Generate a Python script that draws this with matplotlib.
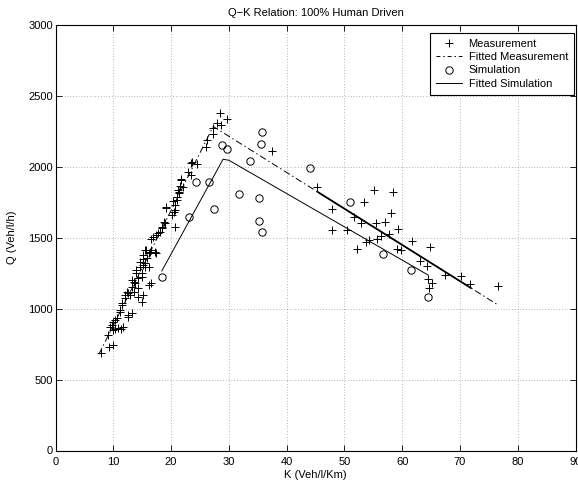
import matplotlib
matplotlib.use("Agg")
import numpy as np
import matplotlib.pyplot as plt
from matplotlib.lines import Line2D

plt.rcParams['font.family'] = ['Liberation Sans', 'DejaVu Sans']

# Measurement points (K in Veh/l/Km, Q in Veh/l/h)
meas_k = [7.8, 9.3, 9.9, 9.1, 9.4, 10.0, 10.3, 10.9, 11.4, 11.7, 9.9, 10.3, 9.7, 10.6,
          12.6, 12.6, 11.2, 11.2, 13.2, 11.5, 11.5, 12.0, 12.0, 12.9, 12.6, 12.3, 13.5,
          14.3, 14.9, 15.2, 13.2, 14.2, 13.5, 16.1, 16.6, 13.8, 13.2, 14.3, 14.9, 13.9,
          14.9, 14.0, 14.6, 15.5, 16.1, 15.5, 14.6, 15.2, 15.1, 15.8, 15.2, 15.7, 15.5,
          16.6, 16.3, 17.2, 17.4, 16.1, 16.6, 16.9, 17.4, 17.8, 18.0, 18.4, 18.5, 20.7,
          18.9, 18.7, 20.1, 20.5, 20.7, 19.2, 19.2, 20.7, 21.0, 20.3, 21.1, 21.4, 21.4,
          21.2, 22.0, 21.5, 21.8, 21.7, 23.0, 23.4, 23.7, 23.4, 24.5, 26.0, 26.3, 27.3,
          27.2, 28.6, 27.9, 29.7, 28.5, 37.4,
          45.3, 55.1, 58.4, 53.4, 47.9, 58.0, 51.7, 52.9, 57.0, 55.4, 59.3, 47.8, 50.4,
          57.7, 56.3, 55.7, 54.2, 53.7, 61.7, 52.1, 59.1, 59.8, 64.8, 63.1, 64.3, 67.4,
          70.1, 71.7, 64.5, 65.2, 64.7, 76.6]
meas_q = [689, 727, 743, 814, 868, 849, 854, 860, 856, 872, 907, 919, 884, 931,
          943, 955, 978, 990, 967, 1025, 1037, 1072, 1095, 1095, 1107, 1119, 1119,
          1083, 1044, 1095, 1154, 1143, 1189, 1166, 1178, 1178, 1201, 1213, 1225, 1248,
          1248, 1272, 1295, 1295, 1291, 1319, 1330, 1307, 1347, 1354, 1377, 1413, 1413,
          1413, 1401, 1401, 1389, 1389, 1488, 1506, 1518, 1535, 1542, 1565, 1577, 1572,
          1600, 1612, 1659, 1682, 1694, 1706, 1718, 1730, 1765, 1760, 1788, 1812, 1823,
          1835, 1859, 1862, 1906, 1911, 1964, 1941, 2035, 2028, 2018, 2140, 2187, 2228,
          2270, 2293, 2305, 2333, 2376, 2110,
          1859, 1833, 1823, 1753, 1701, 1671, 1643, 1601, 1612, 1601, 1561, 1553, 1553,
          1525, 1511, 1490, 1483, 1467, 1478, 1420, 1420, 1413, 1432, 1337, 1300, 1236,
          1229, 1171, 1206, 1178, 1143, 1161]

# Simulation points
sim_k = [18.4, 23.1, 24.4, 26.6, 27.4, 28.8, 29.6, 31.7, 33.7, 35.5, 35.8, 35.2,
         35.3, 35.7, 44.0, 51.0, 56.7, 61.5, 64.5]
sim_q = [1225, 1647, 1894, 1889, 1704, 2152, 2122, 1805, 2042, 2157, 2246, 1779,
         1615, 1542, 1990, 1753, 1382, 1272, 1084]

# Fitted curves
fit_meas_k = [7.5, 27.3, 76.6]
fit_meas_q = [678, 2283, 1025]
fit_sim_k = [18.4, 29.0, 30.0, 64.5]
fit_sim_q = [1265, 2052, 2045, 1236]
# K range where the fitted-measurement line renders as a heavy solid stroke
fit_meas_solid_k = [45.3, 72.0]

xticks = [0, 10, 20, 30, 40, 50, 60, 70, 80, 90]
yticks = [0, 500, 1000, 1500, 2000, 2500, 3000]

fig = plt.figure(figsize=(5.78, 4.82), dpi=100)
ax = fig.add_axes([55.5 / 578, (482 - 450.5) / 482, 520 / 578, 425.8 / 482])

ax.plot(meas_k, meas_q, linestyle='none', marker='+', color='k',
        markersize=5.2, markeredgewidth=0.7)
ax.plot(fit_meas_k, fit_meas_q, color='k', linewidth=0.7,
        linestyle=(0, (7, 3, 1.5, 3)))
solid_q = np.interp(fit_meas_solid_k, fit_meas_k, fit_meas_q)
ax.plot(fit_meas_solid_k, solid_q, color='k', linewidth=1.3, linestyle='-',
        solid_capstyle='butt')
ax.plot(sim_k, sim_q, linestyle='none', marker='o', color='k',
        markerfacecolor='none', markersize=5.3, markeredgewidth=0.7)
ax.plot(fit_sim_k, fit_sim_q, color='k', linewidth=0.7, linestyle='-')

ax.set_xlim(0, 90)
ax.set_ylim(0, 3000)
ax.set_xticks(xticks)
ax.set_yticks(yticks)
ax.tick_params(direction='in', top=True, right=True, length=4, width=0.6,
               labelsize=8)
ax.tick_params(axis='x', pad=5)
ax.tick_params(axis='y', pad=2)
ax.grid(True, color='k', linestyle=(0, (1, 3)), linewidth=0.5, alpha=0.55)
for s in ax.spines.values():
    s.set_linewidth(0.8)

ax.set_xlabel('K (Veh/l/Km)', fontsize=8, labelpad=1.5)
ax.set_ylabel('Q (Veh/l/h)', fontsize=8, labelpad=8)
ax.set_title('Q\u2212K Relation: 100% Human Driven', fontsize=8, pad=6)

handles = [
    Line2D([], [], linestyle='none', marker='+', color='k', markersize=5.2, markeredgewidth=0.7),
    Line2D([], [], color='k', linewidth=0.7, linestyle=(0, (4, 3, 1.5, 3))),
    Line2D([], [], linestyle='none', marker='o', color='k', markerfacecolor='none',
           markersize=5.3, markeredgewidth=0.7),
    Line2D([], [], color='k', linewidth=0.7),
]
labels = ['Measurement', 'Fitted Measurement', 'Simulation', 'Fitted Simulation']
leg = ax.legend(handles, labels, loc='upper right', fontsize=8, frameon=True,
                fancybox=False, edgecolor='k', framealpha=1, borderaxespad=0,
                bbox_to_anchor=(574 / 578, 1 - 32.7 / 482),
                bbox_transform=fig.transFigure,
                handlelength=2.3, handletextpad=0.6, labelspacing=0.3,
                borderpad=0.55)
leg.get_frame().set_linewidth(0.8)

fig.savefig('out.png', dpi=100)
